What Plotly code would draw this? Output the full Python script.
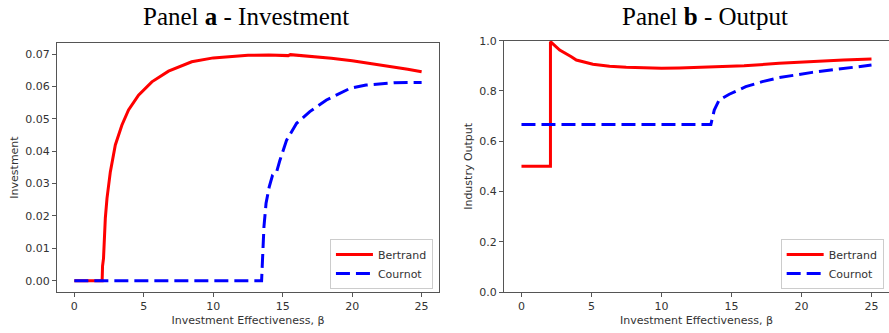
import plotly.graph_objects as go

# ---------------- data ----------------
beta_bert_inv = [0, 2.0, 2.03, 2.1, 2.23, 2.35, 2.59, 2.95, 3.42, 3.9, 4.62, 5.58, 6.78, 8.45,
                 10.0, 11.0, 12.5, 14.0, 15.0, 15.4, 15.55, 16.5, 17.5, 18.5, 20.0, 21.5, 23.0, 24.0, 25.0]
bert_inv = [0, 0, 0.0045, 0.0069, 0.0193, 0.0254, 0.0336, 0.0419, 0.0480, 0.0527, 0.0573, 0.0614, 0.0647, 0.0676,
            0.0688, 0.0692, 0.0696, 0.0697, 0.0697, 0.0695, 0.0698, 0.0695, 0.0691, 0.0687, 0.0679, 0.0670, 0.0661, 0.0653, 0.0645]

beta_cour_inv = [0, 13.48, 13.5, 13.55, 13.65, 13.8, 14.03, 14.27, 14.56, 14.8, 15.28, 16.0, 16.95, 18.15,
                 19.85, 21.0, 23.0, 24.6, 25.0]
cour_inv = [0, 0, 0.002, 0.0085, 0.0167, 0.0239, 0.0290, 0.0326, 0.0336, 0.0372, 0.0434, 0.0486, 0.0522, 0.0558,
            0.0594, 0.0604, 0.0611, 0.0612, 0.0612]

beta_bert_out = [0, 2.07, 2.07, 2.73, 3.56, 3.92, 5.1, 6.29, 7.48, 8.8, 10.0, 11.27, 13.5, 15.9, 18.4, 20.65, 23.0, 25.0]
bert_out = [0.5, 0.5, 0.996, 0.963, 0.936, 0.923, 0.906, 0.898, 0.894, 0.891, 0.890, 0.891, 0.894, 0.900, 0.910, 0.917, 0.923, 0.927]

beta_cour_out = [0, 13.53, 13.77, 14.12, 14.84, 16.02, 17.2, 18.4, 20.77, 23.15, 25.0]
cour_out = [0.667, 0.667, 0.724, 0.764, 0.787, 0.817, 0.837, 0.853, 0.874, 0.890, 0.903]

x_ticks = [0, 5, 10, 15, 20, 25]
inv_ticks = [0.0, 0.01, 0.02, 0.03, 0.04, 0.05, 0.06, 0.07]
out_ticks = [0.0, 0.2, 0.4, 0.6, 0.8, 1.0]

# ---------------- figure ----------------
RED = "#ff0000"
BLUE = "#0000ff"
DASH = "14px,6px"

fig = go.Figure()
fig.add_trace(go.Scatter(x=beta_bert_inv, y=bert_inv, mode="lines", name="Bertrand",
                         line=dict(color=RED, width=3), xaxis="x", yaxis="y", legend="legend"))
fig.add_trace(go.Scatter(x=beta_cour_inv, y=cour_inv, mode="lines", name="Cournot",
                         line=dict(color=BLUE, width=3, dash=DASH), xaxis="x", yaxis="y", legend="legend"))
fig.add_trace(go.Scatter(x=beta_bert_out, y=bert_out, mode="lines", name="Bertrand",
                         line=dict(color=RED, width=3), xaxis="x2", yaxis="y2", legend="legend2"))
fig.add_trace(go.Scatter(x=beta_cour_out, y=cour_out, mode="lines", name="Cournot",
                         line=dict(color=BLUE, width=3, dash=DASH), xaxis="x2", yaxis="y2", legend="legend2"))

SANS = "DejaVu Sans"
axis_common = dict(showline=True, linecolor="#555", linewidth=1, mirror=True,
                   showgrid=False, zeroline=False, ticks="outside", ticklen=4,
                   tickcolor="#555", tickfont=dict(family=SANS, size=11, color="#333"))

fig.update_layout(
    width=889, height=333, autosize=False,
    margin=dict(l=0, r=0, t=0, b=0, pad=0, autoexpand=False),
    paper_bgcolor="white", plot_bgcolor="white",
    xaxis=dict(domain=[0.0641, 0.4938], range=[-1.25, 26.25], tickvals=x_ticks,
               title=dict(text="Investment Effectiveness, β", font=dict(family=SANS, size=11, color="#333"), standoff=4),
               anchor="y", **axis_common),
    yaxis=dict(domain=[0.1231, 0.8709], range=[-0.0035, 0.0734], tickvals=inv_ticks, tickformat=".2f",
               title=dict(text="Investment", font=dict(family=SANS, size=11, color="#333"), standoff=4),
               anchor="x", **axis_common),
    xaxis2=dict(domain=[0.5669, 1.0], range=[-1.25, 26.25], tickvals=x_ticks,
                title=dict(text="Investment Effectiveness, β", font=dict(family=SANS, size=11, color="#333"), standoff=4),
                anchor="y2", **axis_common),
    yaxis2=dict(domain=[0.1231, 0.8778], range=[0, 1.0], tickvals=out_ticks, tickformat=".1f",
                title=dict(text="Industry Output", font=dict(family=SANS, size=11, color="#333"), standoff=4),
                anchor="x2", **axis_common),
    legend=dict(x=0.487, y=0.132, xanchor="right", yanchor="bottom",
                bgcolor="white", bordercolor="#ccc", borderwidth=1,
                font=dict(family=SANS, size=11, color="#333"), itemwidth=37, tracegroupgap=0),
    legend2=dict(x=0.994, y=0.132, xanchor="right", yanchor="bottom",
                 bgcolor="white", bordercolor="#ccc", borderwidth=1,
                 font=dict(family=SANS, size=11, color="#333"), itemwidth=37, tracegroupgap=0),
    annotations=[
        dict(text="Panel <b>a</b> - Investment", x=246 / 889, y=1 - 17 / 333, xref="paper", yref="paper",
             xanchor="center", yanchor="middle", showarrow=False,
             font=dict(family="Liberation Serif", size=25, color="black")),
        dict(text="Panel <b>b</b> - Output", x=705 / 889, y=1 - 17 / 333, xref="paper", yref="paper",
             xanchor="center", yanchor="middle", showarrow=False,
             font=dict(family="Liberation Serif", size=25, color="black")),
    ],
)

fig.write_html("out.html",
               config={"displayModeBar": False, "responsive": False},
               post_script="document.body.style.margin='0';document.body.style.overflow='hidden';")
